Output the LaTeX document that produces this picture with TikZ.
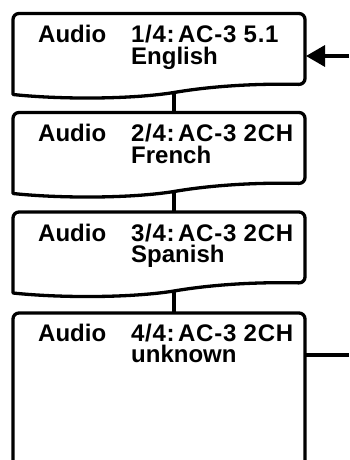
\documentclass[tikz,border=0pt]{standalone}
\usepackage{fontspec}
\setmainfont{Liberation Sans}
\usetikzlibrary{arrows.meta}
\tikzset{
  boxline/.style={line width=3.3pt, black, line join=round},
  conn/.style={line width=3.3pt, black},
  lbl/.style={anchor=base west, inner sep=0pt, font=\fontsize{24}{21.5}\selectfont\bfseries},
  codelbl/.style={lbl, align=left},
}
\newcommand\codeline[1]{{\addfontfeature{LetterSpace=3}#1}}
\newcommand\mydocbox[2]{%
  \draw[boxline] (13,#1+81) [rounded corners=6pt]-- (13,#1) -- (305,#1) -- (305,#1+71) [sharp corners]
    .. controls (260,#1+70) and (215,#1+72) .. (174,#1+79)
    .. controls (130,#1+86) and (60,#1+86) .. (13,#1+81) -- cycle;
  \coordinate (#2top) at (174,#1);
  \coordinate (#2bot) at (174,#1+79);
}
\begin{document}
\begin{tikzpicture}[x=1pt,y=-1pt]
\useasboundingbox (0,0) rectangle (349,460);
\mydocbox{13.5}{ba}
\mydocbox{112.5}{bb}
\mydocbox{212}{bc}
\draw[boxline] (13,470) [rounded corners=6pt]-- (13,313) -- (305,313) [sharp corners]-- (305,470);
\coordinate (bdtop) at (174,313);
\coordinate (bdeast) at (305,355);
\coordinate (inA) at (349,56);
\coordinate (tipA) at (306,56);
\coordinate (outD) at (349,355);
\draw[conn] (babot) -- (bbtop);
\draw[conn] (bbbot) -- (bctop);
\draw[conn] (bcbot) -- (bdtop);
\draw[conn, -{Triangle[length=19pt,width=21pt]}] (inA) -- (tipA);
\draw[conn] (bdeast) -- (outD);
\node[lbl] (a1) at (38,42.5) {Audio};
\node[codelbl] (a2) at (131,64) {\codeline{1/4:\hspace{3.5pt}AC-3 5.1}\\English};
\node[lbl] (b1) at (38,141.5) {Audio};
\node[codelbl] (b2) at (131,163) {\codeline{2/4:\hspace{3.5pt}AC-3 2CH}\\French};
\node[lbl] (c1) at (38,241) {Audio};
\node[codelbl] (c2) at (131,262.5) {\codeline{3/4:\hspace{3.5pt}AC-3 2CH}\\Spanish};
\node[lbl] (d1) at (38,341) {Audio};
\node[codelbl] (d2) at (131,362.5) {\codeline{4/4:\hspace{3.5pt}AC-3 2CH}\\unknown};
\end{tikzpicture}
\end{document}
